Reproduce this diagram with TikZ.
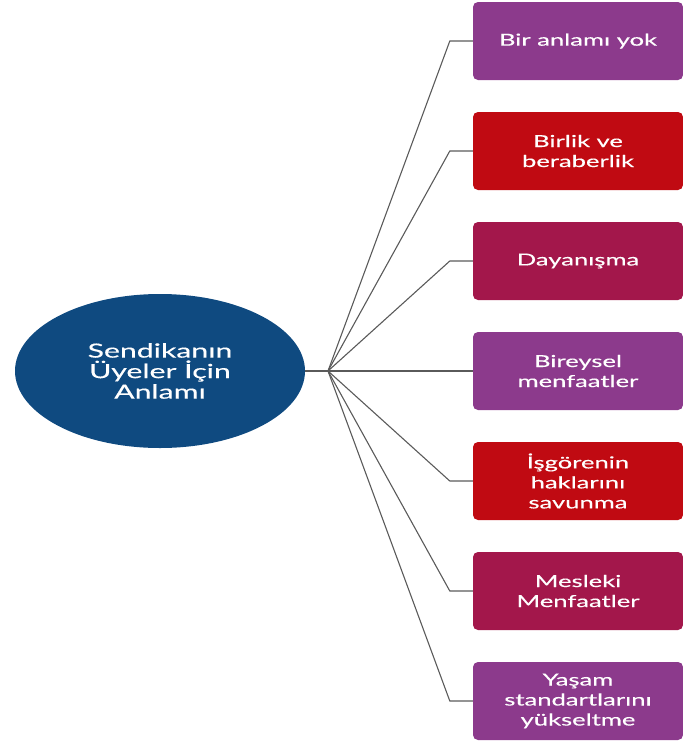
\documentclass[tikz,border=0pt]{standalone}
\usepackage{fontspec}
\usetikzlibrary{shapes.geometric}
\newfontfamily\lblfont[FakeStretch=1.55,FakeBold=0.3]{Lato}
\definecolor{ellblue}{HTML}{0F4A80}
\definecolor{boxpurple}{HTML}{8C3A8C}
\definecolor{boxred}{HTML}{C00A12}
\definecolor{boxcrimson}{HTML}{A3174B}
\definecolor{linkgray}{HTML}{5A5A5A}
\tikzset{
  topic/.style={ellipse, fill=ellblue, minimum width=290pt, minimum height=154pt,
    inner sep=0pt, text=white, align=center,
    font=\lblfont\fontsize{19.5}{20.5}\selectfont},
  item/.style={rectangle, rounded corners=5pt, minimum width=210pt, minimum height=78pt,
    inner sep=0pt, text=white, align=center,
    font=\lblfont\fontsize{16.5}{20}\selectfont},
  link/.style={draw=linkgray, line width=1.1pt, line join=round}
}
\begin{document}
\begin{tikzpicture}[x=1pt,y=-1pt]
  \useasboundingbox (0,0) rectangle (683,745);
  \node[topic] (ell) at (160,371) {Sendikanın\\Üyeler İçin\\Anlamı};
  \coordinate (hub) at (328,371);

  \node[item, fill=boxpurple]  (b1) at (578,41)  {Bir anlamı yok};
  \node[item, fill=boxred]     (b2) at (578,151) {Birlik ve\\beraberlik};
  \node[item, fill=boxcrimson] (b3) at (578,261) {Dayanışma};
  \node[item, fill=boxpurple]  (b4) at (578,371) {Bireysel\\menfaatler};
  \node[item, fill=boxred]     (b5) at (578,481) {İşgörenin\\haklarını\\savunma};
  \node[item, fill=boxcrimson] (b6) at (578,591) {Mesleki\\Menfaatler};
  \node[item, fill=boxpurple]  (b7) at (578,701) {Yaşam\\standartlarını\\yükseltme};

  \draw[link] (ell.east) -- (hub);
  \foreach \b in {b1,b2,b3,b4,b5,b6,b7}
    \draw[link] (hub) -- ([xshift=-23pt]\b.west) -- (\b.west);
\end{tikzpicture}
\end{document}
